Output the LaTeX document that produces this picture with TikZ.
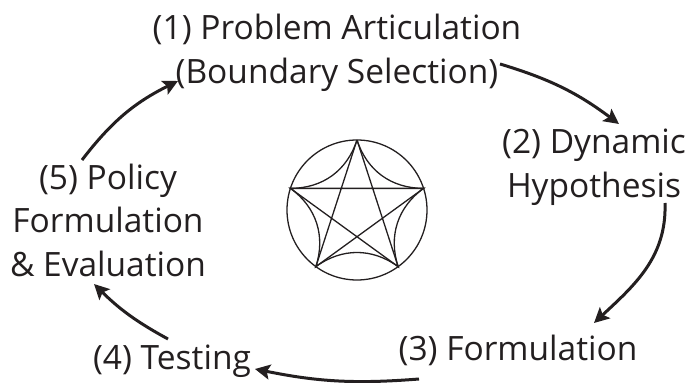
\documentclass[tikz,border=0pt]{standalone}
\usepackage{fontspec}
\setmainfont{Open Sans}
\usetikzlibrary{arrows.meta,calc}
\definecolor{inkblack}{HTML}{231F20}
\begin{document}
\begin{tikzpicture}[x=1pt,y=1pt,
  every node/.style = {align=center, inner sep=0pt, text=inkblack,
    font=\fontsize{33.5}{43.5}\selectfont},
  flow/.style = {draw=inkblack, line width=3pt,
    -{Stealth[length=15pt,width=15pt,inset=3pt]}},
  figure/.style = {draw=inkblack, line width=1.3pt}]
  \useasboundingbox (0,0) rectangle (689,383);
  \node (problem) at (337,330) {(1) Problem Articulation\\(Boundary Selection)};
  \node (dynamic) at (594,216) {(2) Dynamic\\Hypothesis};
  \node (formulation) at (518,33) {(3) Formulation};
  \node (testing) at (172,22) {(4) Testing};
  \node (policy) at (108,163) {(5) Policy\\Formulation\\\& Evaluation};
  % the five vertices lie on the circle
  \node[figure, circle, minimum size=140pt] (wheel) at (357,173) {};
  \foreach \a/\n in {90/a,162/b,234/c,306/d,18/e}
    \coordinate (\n) at ($(wheel.center)+(\a:70pt)$);
  \draw[figure] (a) -- (c) -- (e) -- (b) -- (d) -- (a);
  \draw[figure] (a) to[bend left=36] (b) to[bend left=36] (c)
    to[bend left=36] (d) to[bend left=36] (e) to[bend left=36] (a);
  % cycle
  \draw[flow] ([xshift=163pt,yshift=-11pt]problem.center) to[bend left=10] ([xshift=25pt,yshift=43pt]dynamic.center);
  \draw[flow] ([xshift=71pt,yshift=-36pt]dynamic.center) to[out=-88,in=43] ([xshift=76pt,yshift=27pt]formulation.center);
  \draw[flow] ([xshift=-99pt,yshift=-29pt]formulation.center) to[bend left=8] ([xshift=83pt,yshift=-8pt]testing.center);
  \draw[flow] ([xshift=-4pt,yshift=22pt]testing.center) to[bend left=8] ([xshift=-14pt,yshift=-64pt]policy.center);
  \draw[flow] ([xshift=-26pt,yshift=60pt]policy.center) to[bend left=13] ([xshift=-159pt,yshift=-28pt]problem.center);
\end{tikzpicture}
\end{document}
